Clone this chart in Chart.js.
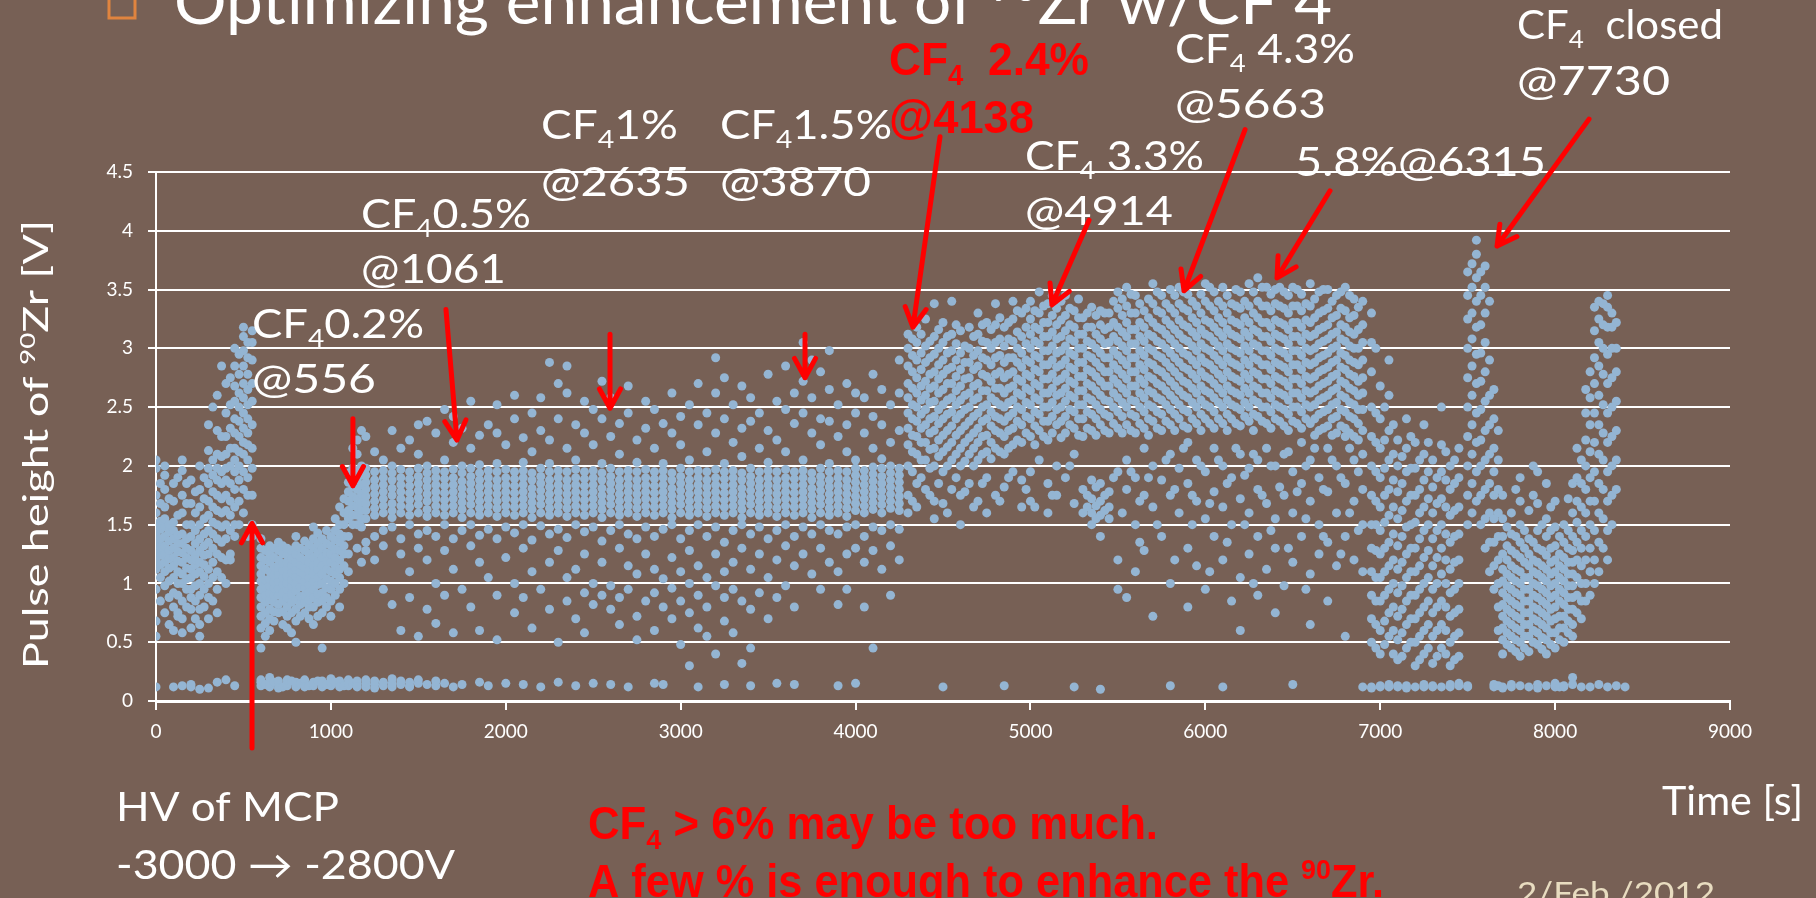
<!DOCTYPE html>
<html>
<head>
<meta charset="utf-8">
<script src="https://cdn.jsdelivr.net/npm/chart.js@4.4.1/dist/chart.umd.min.js"></script>
<style>
  html, body { margin: 0; padding: 0; background: #776055; overflow: hidden; }
  canvas { display: block; }
</style>
</head>
<body>
<canvas id="chart" width="1816" height="898"></canvas>
<script>
// each entry: "time[s]: pulse heights in 0.01 V"
const beforeCF4 = [
  "0: 55 68 95 112 120 128 135 142 150 160 175 198 205 12",
  "25: 85 105 116 124 131 138 146 153 168 185 130",
  "50: 75 98 110 118 125 132 140 148 155 165 180 200 192",
  "75: 65 88 102 113 121 128 136 144 150 172",
  "100: 60 80 92 105 115 122 130 138 145 152 170 185 12",
  "125: 72 90 100 110 119 127 134 141 158 190 75",
  "150: 58 70 85 100 108 118 126 134 142 160 175 196 205 13",
  "175: 80 95 104 113 122 130 138 150 168 185",
  "200: 62 78 88 95 105 112 120 128 140 150 168 188 12 14",
  "225: 70 85 98 108 116 124 134 145 160 178 120",
  "250: 55 65 78 90 100 110 118 128 138 150 165 180 200 10",
  "275: 80 95 106 116 124 132 142 155 172 190",
  "300: 70 88 100 112 125 135 145 158 170 185 198 213 235 11",
  "325: 85 105 118 130 142 152 165 178 192 205 250",
  "350: 75 95 110 125 138 150 162 175 188 198 210 230 260 16",
  "375: 105 122 135 148 160 172 185 195 208 225 285",
  "400: 100 120 138 150 162 175 188 198 210 225 245 270 18",
  "425: 120 145 158 170 185 200 215 232 252 275 125",
  "450: 140 150 165 180 195 205 215 228 240 255 268 285 300 13",
  "475: 150 170 188 200 212 225 238 250 262 278 295",
  "500: 160 180 195 210 220 232 245 258 270 285 298 310 318",
  "525: 175 190 205 218 228 240 252 265 278 292 305 140",
  "550: 140 150 175 198 215 235 255 270 290 305 315"
];
const cf4Low = [
  "600: 45 62 72 80 88 95 102 108 115 122 130 138 13 16 18",
  "625: 55 66 75 84 90 97 103 112 120 128 14",
  "650: 60 70 78 86 92 98 104 110 118 125 132 12 15 20",
  "675: 68 76 84 90 96 101 107 114 122 130 16",
  "700: 75 82 90 96 102 108 114 120 128 135 14 17 11",
  "725: 65 76 85 92 99 105 111 117 125 132 12",
  "750: 62 72 80 88 95 100 106 112 118 124 130 13 15 18",
  "775: 58 75 84 91 98 103 109 116 121 128 17",
  "800: 50 68 78 86 94 100 106 112 118 125 132 140 12 16",
  "825: 72 82 89 97 104 110 116 122 130 15",
  "850: 75 84 90 96 102 108 114 120 128 136 14 18 12",
  "875: 70 80 86 93 99 105 111 118 125 133 13",
  "900: 65 80 88 95 102 108 115 122 130 138 148 13 16",
  "925: 72 84 91 99 105 112 118 126 134 143 17",
  "950: 45 75 85 92 100 108 115 122 130 138 12 17 15",
  "975: 80 88 96 104 112 119 126 134 145 14",
  "1000: 72 85 95 102 110 118 125 132 140 13 16 19",
  "1025: 90 100 108 115 122 129 137 145 155 16",
  "1050: 80 95 105 112 120 128 135 142 150 165 14 17 12",
  "1075: 100 115 125 132 140 150 160 172 13",
  "1100: 110 125 140 155 162 170 178 186 194 13 18 15",
  "1125: 150 158 166 174 182 190 198 215 15",
  "1150: 130 150 158 165 172 180 188 196 210 222 14 17 12",
  "1175: 148 155 162 169 176 184 192 200 230 118"
];
const cf4Mid = [
  "1200: 155 162 168 174 180 186 192 198 225 135 128 12 15 18",
  "1250: 158 164 170 176 182 188 195 212 140 120 14 11 17",
  "1300: 160 166 172 178 184 190 196 205 145 132 95 13 16",
  "1350: 156 162 168 175 181 188 194 200 230 148 82 12 15 19",
  "1400: 160 166 172 178 184 190 197 215 138 125 60 14 17",
  "1450: 158 165 171 177 183 189 195 222 150 110 88 13 16 12",
  "1500: 160 167 173 179 185 191 198 210 235 142 130 55 15 18",
  "1550: 157 163 170 176 182 188 194 200 238 145 120 78 14",
  "1600: 160 166 172 178 184 190 196 228 140 100 66 13 17",
  "1650: 158 165 171 177 183 189 195 205 248 150 128 90 15",
  "1700: 160 166 172 178 184 190 197 220 242 138 112 58 12",
  "1750: 156 163 169 175 181 187 194 200 232 145 95 14",
  "1800: 160 167 173 179 185 191 198 215 255 150 132 80",
  "1850: 158 164 170 176 182 188 194 201 226 141 118 60 16",
  "1900: 160 166 172 178 184 190 196 235 146 105 13",
  "1950: 157 164 170 176 182 188 195 202 228 252 138 90 52",
  "2000: 160 166 172 178 184 190 197 218 148 122 15",
  "2050: 158 165 171 177 183 189 195 240 260 143 100 75",
  "2100: 160 166 172 178 184 190 196 203 224 150 130 88 14",
  "2150: 156 163 169 175 181 188 194 212 245 137 110 62",
  "2200: 160 167 173 179 185 191 198 230 258 149 95 12",
  "2250: 158 164 170 176 182 188 195 202 222 288 142 118 78",
  "2300: 160 166 172 178 184 190 196 240 270 146 128 50 16",
  "2350: 157 164 170 176 182 188 195 215 262 285 139 105 85",
  "2400: 160 166 172 178 184 190 197 205 235 150 112 70 13",
  "2450: 158 165 171 177 183 189 195 228 255 144 125 92 58",
  "2500: 160 166 172 178 184 190 196 218 248 148 100 82 15",
  "2550: 156 163 169 175 181 188 194 202 240 272 136 118 90",
  "2600: 160 167 173 179 185 191 198 225 258 145 98 78 14",
  "2650: 158 164 170 176 182 188 195 210 236 150 130 88 65",
  "2700: 160 166 172 178 184 190 196 245 268 142 115 95 12",
  "2750: 157 164 170 176 182 188 195 203 222 138 108 72 52",
  "2800: 160 166 172 178 184 190 197 232 255 148 125 85",
  "2850: 158 165 171 177 183 189 195 215 248 140 112 92 60 15",
  "2900: 160 166 172 178 184 190 196 202 236 146 104 80 14",
  "2950: 156 163 169 175 181 188 194 228 262 150 122 96 70",
  "3000: 160 167 173 179 185 191 198 218 242 138 110 85 48",
  "3050: 158 164 170 176 182 188 195 205 252 145 128 100 75 30",
  "3100: 160 166 172 178 184 190 196 235 270 150 115 90 62 12",
  "3150: 157 164 170 176 182 188 195 212 245 140 105 80 55",
  "3200: 160 166 172 178 184 190 197 228 262 292 148 125 98 40",
  "3250: 158 165 171 177 183 189 195 202 240 275 135 110 88 68 14",
  "3300: 160 166 172 178 184 190 196 220 252 145 118 95 58",
  "3350: 156 163 169 175 181 188 194 208 232 268 150 130 85 32",
  "3400: 160 167 173 179 185 191 198 238 258 142 112 78 45 13",
  "3450: 158 164 170 176 182 188 195 215 245 148 125 92",
  "3500: 160 166 172 178 184 190 196 203 230 278 138 105 70",
  "3550: 157 164 170 176 182 188 195 222 255 145 120 88 15",
  "3600: 160 166 172 178 184 190 197 212 248 285 150 132 98",
  "3650: 158 165 171 177 183 189 195 236 262 140 115 80 14",
  "3700: 160 166 172 178 184 190 196 205 245 272 305 148 125",
  "3750: 156 163 169 175 181 188 194 228 258 290 142 108",
  "3800: 160 167 173 179 185 191 198 218 240 280 150 130 95",
  "3850: 158 164 170 176 182 188 195 202 238 265 298 145 118",
  "3900: 160 166 172 178 184 190 196 225 252 142 110 82 13",
  "3950: 157 164 170 176 182 188 195 212 235 270 148 125 95",
  "4000: 162 168 174 180 186 192 198 205 245 262 150 130 15",
  "4050: 160 166 172 178 184 190 196 228 258 140 118 80",
  "4100: 163 169 175 181 187 193 199 215 242 278 148 128 45",
  "4150: 160 167 173 179 185 191 198 206 235 265 145 112",
  "4200: 164 170 176 182 188 194 200 220 252 150 132 90",
  "4250: 162 168 174 180 186 192 198 230 262 290 146 120"
];
const cf4High = [
  "4300: 200 218 232 245 258 270 285 300 312 175 160",
  "4325: 195 212 226 240 252 266 280 294 308 170",
  "4350: 210 225 238 250 262 275 290 305 318 185 165",
  "4375: 205 220 232 244 256 268 282 296 312 190",
  "4400: 205 220 235 248 260 272 288 302 325 180",
  "4425: 198 214 228 240 254 266 278 292 306 175",
  "4450: 200 215 230 242 255 268 280 295 310 338 170 155",
  "4475: 208 222 236 248 262 274 286 300 316 185",
  "4500: 195 212 226 240 252 265 278 290 305 322 168 12",
  "4525: 200 216 230 244 256 270 282 296 310 160",
  "4550: 205 220 234 246 258 270 284 298 312 340 180",
  "4575: 210 226 240 252 264 276 290 304 320 190",
  "4600: 200 215 230 244 256 268 282 296 315 175 150",
  "4625: 204 220 234 248 260 274 288 302 178",
  "4650: 210 224 238 250 262 275 288 300 318 185",
  "4675: 200 215 228 242 256 268 282 294 310 165",
  "4700: 205 220 232 245 258 270 285 298 312 330 170",
  "4725: 210 225 238 250 264 278 292 306 320 185",
  "4750: 212 226 240 252 264 276 290 305 322 190 160",
  "4775: 206 220 234 246 258 272 286 300 316",
  "4800: 215 230 242 255 266 278 292 305 320 338 175",
  "4825: 212 228 240 252 266 280 294 308 326 170",
  "4850: 210 225 238 250 262 275 288 302 318 182 13",
  "4875: 215 230 242 254 266 278 292 308 322 190",
  "4900: 218 232 245 256 268 280 292 306 325 340 195",
  "4925: 222 238 250 262 274 288 300 314 332",
  "4950: 220 235 248 260 272 284 296 310 330 188 165",
  "4975: 228 242 254 266 278 290 304 318 334 180",
  "5000: 225 240 252 264 276 288 300 312 325 340 195 170",
  "5025: 218 234 246 258 270 282 294 306 318 332 165",
  "5050: 230 244 256 268 280 292 304 316 330 348 205",
  "5075: 225 238 250 262 274 286 298 310 322 336",
  "5100: 222 238 250 262 274 286 298 310 322 338 185 160",
  "5125: 228 242 254 266 278 290 302 314 328 345 175",
  "5150: 235 248 260 272 284 296 308 320 334 200 175",
  "5175: 224 238 250 262 274 286 298 310 324 340",
  "5200: 228 242 255 266 278 290 302 315 328 345 190",
  "5225: 235 248 260 272 284 296 308 320 334 200",
  "5250: 232 246 258 270 282 294 306 318 332 210 168 12",
  "5275: 226 240 252 264 276 288 300 312 326 342",
  "5300: 225 240 252 264 276 288 300 312 326 180 160",
  "5325: 232 246 258 270 282 294 306 318 330 175 165",
  "5350: 230 244 256 268 280 292 304 318 335 188 172 160 150",
  "5375: 226 240 252 264 276 288 300 312 328 182 166 155",
  "5400: 235 248 260 272 284 296 308 320 332 185 170 158 140 10",
  "5425: 230 244 256 268 280 292 304 316 330 175 162",
  "5450: 228 242 255 268 280 292 305 318 330 178 165 155",
  "5475: 236 250 262 274 286 298 310 322 340 190",
  "5500: 232 246 258 270 282 294 306 318 334 348 195 120 95",
  "5525: 228 242 254 266 278 290 302 314 328 342 160",
  "5550: 235 250 262 274 286 298 310 322 336 352 205 180 88",
  "5575: 230 244 256 268 280 292 304 316 330 346 195",
  "5600: 228 242 255 268 280 292 304 316 330 345 190 150 110",
  "5625: 236 250 262 274 286 298 310 322 338 170 135",
  "5650: 232 246 258 270 282 294 306 318 332 215 175 128",
  "5675: 226 240 252 264 276 288 300 312 326 342 190",
  "5700: 238 250 262 274 286 298 310 322 338 355 200 165 72",
  "5725: 232 246 258 270 282 294 306 318 332 348 150",
  "5750: 230 244 256 268 280 292 304 316 330 345 188 140",
  "5775: 238 252 264 276 288 300 312 324 338 205",
  "5800: 235 248 260 272 284 296 308 320 334 350 210 175 100 13",
  "5825: 230 244 256 268 280 292 304 316 330 345 180 120",
  "5850: 240 252 264 276 288 300 312 324 338 352 198 160",
  "5875: 234 248 260 272 284 296 308 320 334 348 215",
  "5900: 232 246 258 270 282 294 306 318 332 346 220 185 130 80",
  "5925: 240 254 266 278 290 302 314 326 340 175 150",
  "5950: 236 250 262 274 286 298 310 322 336 205 170 115",
  "5975: 230 244 256 268 280 292 304 316 330 346 200",
  "6000: 240 252 264 276 288 300 312 324 340 355 195 155 95",
  "6025: 236 250 262 274 286 298 310 322 336 352 168 110",
  "6050: 232 246 258 270 282 294 306 318 332 348 215 178 140",
  "6075: 240 254 266 278 290 302 314 326 340 205",
  "6100: 236 250 262 274 286 298 310 322 336 352 200 165 120 12",
  "6125: 230 244 256 268 280 292 304 316 330 345 185 135",
  "6150: 240 252 264 276 288 300 312 324 338 190 150 85",
  "6175: 236 250 262 274 286 298 310 322 336 350 215",
  "6200: 234 248 260 272 284 296 308 320 334 348 210 172 105 60",
  "6225: 242 254 266 278 290 302 314 326 340 192 150",
  "6250: 238 250 262 274 286 298 310 322 336 355 198 160 125",
  "6275: 230 244 256 268 280 292 304 316 330 348 210 100",
  "6300: 242 254 266 278 290 302 314 326 340 360 205 180 140 90",
  "6325: 238 250 262 274 286 298 310 322 336 352 175",
  "6350: 236 250 262 274 286 298 310 322 336 352 215 168 112",
  "6375: 232 246 258 270 282 294 306 318 332 346 200 145",
  "6400: 240 252 264 276 288 300 312 324 338 350 200 155 130 75",
  "6425: 238 250 262 274 286 298 310 322 336 352 182",
  "6450: 234 248 260 272 284 296 308 320 334 348 210 175 98",
  "6475: 230 244 256 268 280 292 304 316 330 345 212 130",
  "6500: 238 250 262 274 286 298 310 322 336 352 195 160 118 14",
  "6525: 236 250 262 274 286 298 310 322 336 350 178",
  "6550: 232 246 258 270 282 294 306 318 332 346 220 185 140",
  "6575: 240 252 264 276 288 300 312 324 338 200 155 95",
  "6600: 236 250 262 274 286 298 310 322 336 355 205 170 108 65",
  "6625: 226 240 252 264 276 288 300 312 326 342 215",
  "6650: 230 244 256 268 280 292 304 316 330 348 190 150 125",
  "6675: 232 246 258 270 282 294 306 318 332 350 180 140",
  "6700: 234 248 260 272 284 296 308 320 334 350 215 178 135 85",
  "6725: 226 240 252 264 276 288 300 312 326 340 205",
  "6750: 228 242 254 266 278 290 302 314 328 345 200 160 115",
  "6775: 234 248 260 272 284 296 308 320 334 348 190 125",
  "6800: 232 246 258 270 282 294 306 318 332 352 225 185 140 55",
  "6825: 228 242 254 266 278 290 302 314 326 345 215 160",
  "6850: 225 240 252 264 276 288 300 312 328 342 205 170 120",
  "6875: 222 236 248 260 272 286 300 316 335 195 145",
  "6900: 230 248 262 275 290 305 320 340 210 180 150 110 12"
];
const cf4Closed = [
  "6950: 50 70 90 110 130 150 175 200 225 250 280 305 330 12 11",
  "6975: 45 65 85 105 128 150 170 195 220 245 300",
  "7000: 40 60 85 105 125 145 165 190 215 240 268 13 12",
  "7025: 48 68 90 110 130 152 175 198 222 250",
  "7050: 55 75 95 115 135 158 180 205 230 260 290 12 14",
  "7075: 40 60 80 100 120 142 165 188 210 235",
  "7100: 35 52 72 92 112 132 155 178 200 222 12 13",
  "7125: 38 58 78 98 118 140 162 185 208",
  "7150: 45 65 85 105 125 148 170 195 215 240 11 13",
  "7175: 50 70 90 110 130 150 175 198 225",
  "7200: 30 50 70 90 110 130 152 175 198 220 12",
  "7225: 35 55 75 95 115 138 160 180 205",
  "7250: 40 60 80 100 122 145 165 188 210 235 14 12",
  "7275: 45 65 85 105 128 150 172 195 220",
  "7300: 32 55 75 95 115 138 160 182 205 12 13",
  "7325: 38 60 80 100 122 145 168 190",
  "7350: 45 65 85 108 130 150 172 195 218 250 12",
  "7375: 40 60 80 100 120 142 165 188 212",
  "7400: 30 50 72 92 112 135 158 180 200 12 14",
  "7425: 35 55 75 95 118 140 162 185 205",
  "7450: 38 58 78 100 120 142 165 190 215 13 15",
  "7500: 150 175 200 225 250 275 300 325 345 365 13 12",
  "7525: 160 185 210 235 260 285 308 330 352 372",
  "7550: 170 195 220 245 270 295 318 340 360 380 392",
  "7575: 150 175 200 222 248 272 296 320 345 365",
  "7600: 130 155 180 205 230 255 280 305 330 352 370",
  "7625: 110 135 160 185 210 235 260 290 340",
  "7650: 95 115 135 155 175 195 215 240 265 12 14",
  "7675: 60 80 100 120 140 160 180 205 230 13",
  "7700: 40 52 62 72 82 92 102 112 125 140 155 175 12 11",
  "7725: 48 58 68 78 88 98 108 120 132 148",
  "7750: 45 55 65 75 85 95 105 115 128 142 160 12 14",
  "7775: 42 52 62 72 82 92 102 112 125 140 180",
  "7800: 38 50 60 70 80 90 100 110 122 135 150 170 190 13",
  "7825: 45 55 65 75 85 95 105 118 130 145",
  "7850: 42 55 65 75 85 95 105 115 125 138 162 12",
  "7875: 50 60 70 80 90 100 110 120 135 175 200",
  "7900: 48 58 68 78 88 98 108 118 130 145 168 195 11 14",
  "7925: 44 54 65 75 85 95 105 115 128 150",
  "7950: 40 52 62 72 82 92 102 112 124 140 155 185 13",
  "7975: 48 58 68 78 88 98 108 118 130 145 165",
  "8000: 45 58 70 80 90 100 110 120 132 148 170 12 15",
  "8025: 52 62 72 85 95 105 115 125 140 12",
  "8050: 50 62 72 82 92 102 112 122 135 150 12 13",
  "8075: 58 68 78 88 98 108 118 130 145 172",
  "8100: 55 65 78 88 98 108 118 128 140 160 185 14 20",
  "8125: 75 90 105 120 135 152 170 190 215",
  "8150: 70 85 100 115 130 145 165 185 205 12",
  "8175: 85 100 120 140 160 180 200 222 245 265",
  "8200: 90 110 130 150 170 190 212 235 258 280 12",
  "8225: 100 120 145 170 195 220 245 270 292 315 335",
  "8250: 110 135 160 185 210 235 260 285 305 325 340 14",
  "8275: 130 155 180 205 228 252 278 300 320 338",
  "8300: 120 145 170 195 220 245 270 295 318 335 345 12",
  "8325: 150 175 200 225 250 275 300 318 330",
  "8350: 180 205 230 255 280 300 322 13",
  "8400: 12"
];
const xTicks = [0, 1000, 2000, 3000, 4000, 5000, 6000, 7000, 8000, 9000];
const yTicks = [0, 0.5, 1, 1.5, 2, 2.5, 3, 3.5, 4, 4.5];

// arrows in data units: [tailTime, tailV, tipTime, tipV]
const arrows = [
  [549, -0.40, 549, 1.51],
  [1126, 2.40, 1126, 1.83],
  [1658, 3.33, 1721, 2.22],
  [2596, 3.12, 2596, 2.49],
  [3711, 3.12, 3711, 2.75],
  [4483, 4.80, 4328, 3.18],
  [5335, 4.09, 5123, 3.37],
  [6227, 4.86, 5878, 3.49],
  [6713, 4.34, 6410, 3.60],
  [8194, 4.95, 7668, 3.87]
];

function parseRun(lines) {
  const pts = [];
  lines.forEach((line) => {
    const parts = line.split(":");
    const t = Number(parts[0]);
    parts[1].trim().split(/\s+/).forEach((v) => pts.push({ x: t, y: Number(v) / 100 }));
  });
  return pts;
}

const points = [].concat(
  parseRun(beforeCF4), parseRun(cf4Low), parseRun(cf4Mid),
  parseRun(cf4High), parseRun(cf4Closed)
);

const WHITE = "#ffffff";
const RED = "#ff0000";
const FAM = "Lato, 'Open Sans', sans-serif";
const BOLD_FAM = "'Liberation Sans Narrow', 'Liberation Sans', sans-serif";

// draws text runs ([text, kind]) with the cap centre at yc, squeezed to width w
function drawRuns(ctx, runs, x, yc, size, color, w, weight, family) {
  weight = weight || "normal";
  family = family || FAM;
  const fontFor = (k) => `${weight} ${k ? size * 0.62 : size}px ${family}`;
  let total = 0;
  runs.forEach((r) => {
    ctx.font = fontFor(r[1]);
    total += ctx.measureText(r[0]).width;
  });
  const sx = w ? w / total : 1;
  ctx.save();
  ctx.translate(x, yc + size * 0.36);
  ctx.scale(sx, 1);
  ctx.fillStyle = color;
  ctx.textBaseline = "alphabetic";
  ctx.textAlign = "left";
  let cx = 0;
  runs.forEach((r) => {
    ctx.font = fontFor(r[1]);
    let dy = 0;
    if (r[1] === "sub") dy = size * 0.22;
    if (r[1] === "sup") dy = -size * 0.38;
    ctx.fillText(r[0], cx, dy);
    cx += ctx.measureText(r[0]).width;
  });
  ctx.restore();
}

const notes = [
  { runs: [["CF"], ["4", "sub"], ["0.2%"]], x: 252, y: 324, w: 172 },
  { runs: [["@556"]], x: 252, y: 379, w: 124 },
  { runs: [["CF"], ["4", "sub"], ["0.5%"]], x: 361, y: 214, w: 170 },
  { runs: [["@1061"]], x: 361, y: 269, w: 145 },
  { runs: [["CF"], ["4", "sub"], ["1%"]], x: 541, y: 125, w: 137 },
  { runs: [["@2635"]], x: 541, y: 182, w: 149 },
  { runs: [["CF"], ["4", "sub"], ["1.5%"]], x: 720, y: 125, w: 172 },
  { runs: [["@3870"]], x: 720, y: 182, w: 151 },
  { runs: [["CF"], ["4", "sub"], [" 3.3%"]], x: 1025, y: 156, w: 179 },
  { runs: [["@4914"]], x: 1025, y: 211, w: 148 },
  { runs: [["5.8%@6315"]], x: 1295, y: 162, w: 251 },
  { runs: [["CF"], ["4", "sub"], [" 4.3%"]], x: 1175, y: 49, w: 180 },
  { runs: [["@5663"]], x: 1175, y: 104, w: 151 },
  { runs: [["CF"], ["4", "sub"], ["  closed"]], x: 1517, y: 25, w: 206 },
  { runs: [["@7730"]], x: 1517, y: 81, w: 153 },
  { runs: [["HV of MCP"]], x: 116, y: 807, w: 223 },
  { runs: [["-3000 \u2192 -2800V"]], x: 116, y: 865, w: 339 },
  { runs: [["Time [s]"]], x: 1662, y: 801, w: 141 },
  { runs: [["CF"], ["4", "sub"], ["  2.4%"]], x: 889, y: 58, w: 200, color: RED, bold: true, size: 47 },
  { runs: [["@4138"]], x: 889, y: 116, w: 145, color: RED, bold: true, size: 47 },
  { runs: [["CF"], ["4", "sub"], [" > 6% may be too much."]], x: 588, y: 822, w: 570, color: RED, bold: true, size: 46 },
  { runs: [["A few % is enough to enhance the "], ["90", "sup"], ["Zr."]], x: 588, y: 880, w: 796, color: RED, bold: true, size: 46 }
];

const slideText = {
  id: "slideText",
  afterDraw(chart) {
    const ctx = chart.ctx;
    const xs = chart.scales.x;
    const ys = chart.scales.y;

    // title, mostly cut by the top edge
    ctx.save();
    ctx.strokeStyle = "#e0843f";
    ctx.lineWidth = 3;
    ctx.strokeRect(109, -14, 26, 32);
    ctx.restore();
    drawRuns(ctx, [["Optimizing enhancement of "], ["90", "sup"], ["Zr w/CF 4"]], 174, 2, 62, WHITE, 1158);

    // y axis title
    ctx.save();
    ctx.translate(36, 445);
    ctx.rotate(-Math.PI / 2);
    drawRuns(ctx, [["Pulse height of "], ["90", "sup"], ["Zr [V]"]], -224, 0, 34, WHITE, 449);
    ctx.restore();

    // date
    drawRuns(ctx, [["2/Feb./2012"]], 1517, 893, 30, "#e8dcc0", 198);

    notes.forEach((n) => {
      drawRuns(ctx, n.runs, n.x, n.y, n.size || 40, n.color || WHITE, n.w,
        n.bold ? "bold" : "normal", n.bold ? BOLD_FAM : FAM);
    });

    // arrows
    ctx.save();
    ctx.strokeStyle = RED;
    ctx.lineWidth = 5;
    ctx.lineCap = "round";
    ctx.lineJoin = "round";
    arrows.forEach((a) => {
      const x1 = xs.getPixelForValue(a[0]);
      const y1 = ys.getPixelForValue(a[1]);
      const x2 = xs.getPixelForValue(a[2]);
      const y2 = ys.getPixelForValue(a[3]);
      const ang = Math.atan2(y2 - y1, x2 - x1);
      const len = 22;
      ctx.beginPath();
      ctx.moveTo(x1, y1);
      ctx.lineTo(x2, y2);
      ctx.moveTo(x2 - len * Math.cos(ang - 0.5), y2 - len * Math.sin(ang - 0.5));
      ctx.lineTo(x2, y2);
      ctx.lineTo(x2 - len * Math.cos(ang + 0.5), y2 - len * Math.sin(ang + 0.5));
      ctx.stroke();
    });
    ctx.restore();
  }
};

new Chart(document.getElementById("chart").getContext("2d"), {
  type: "scatter",
  data: {
    datasets: [{
      data: points,
      pointRadius: 4.5,
      pointBackgroundColor: "#94b5d3",
      pointBorderWidth: 0,
      pointHoverRadius: 4.5
    }]
  },
  options: {
    responsive: false,
    animation: false,
    devicePixelRatio: 1,
    layout: { padding: { left: 0, top: 172, right: 86, bottom: 157 } },
    plugins: { legend: { display: false }, tooltip: { enabled: false } },
    scales: {
      x: {
        type: "linear",
        min: 0,
        max: 9000,
        afterBuildTicks: (s) => { s.ticks = xTicks.map((v) => ({ value: v })); },
        afterFit: (s) => { s.height = 40; },
        ticks: { color: WHITE, font: { family: FAM, size: 19 }, padding: 10, maxRotation: 0, callback: (v) => String(v) },
        grid: { drawOnChartArea: false, color: WHITE, lineWidth: 2, tickLength: 9 },
        border: { color: WHITE, width: 3 }
      },
      y: {
        min: 0,
        max: 4.5,
        afterBuildTicks: (s) => { s.ticks = yTicks.map((v) => ({ value: v })); },
        afterFit: (s) => { s.width = 156; },
        ticks: { color: WHITE, font: { family: FAM, size: 19 }, padding: 15, callback: (v) => String(v) },
        grid: { color: WHITE, lineWidth: 2, tickLength: 8 },
        border: { color: WHITE, width: 2 }
      }
    }
  },
  plugins: [slideText]
});
</script>
</body>
</html>
